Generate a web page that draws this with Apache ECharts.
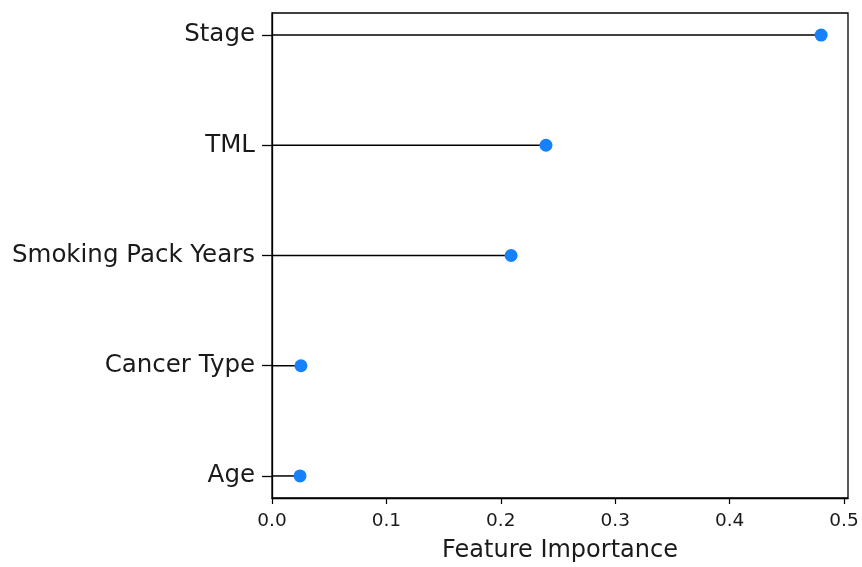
<!DOCTYPE html>
<html>
<head>
<meta charset="utf-8">
<script src="https://cdn.jsdelivr.net/npm/echarts@6/dist/echarts.min.js"></script>
<style>
html,body{margin:0;padding:0;background:#fff;}
#c{width:862px;height:567px;}
</style>
</head>
<body>
<div id="c"></div>
<script>
const categories = ['Age', 'Cancer Type', 'Smoking Pack Years', 'TML', 'Stage'];
const importance = [0.0245, 0.0253, 0.209, 0.2395, 0.480];
const xTicks = [0, 0.1, 0.2, 0.3, 0.4, 0.5];
const yTicks = [0, 1, 2, 3, 4];

const chart = echarts.init(document.getElementById('c'), null, {renderer: 'canvas'});
const font = 'DejaVu Sans';
const pts = importance.map((v, i) => [v, i]);

chart.setOption({
  backgroundColor: '#fff',
  animation: false,
  grid: {left: 272, right: 14, top: 13, bottom: 69, show: true, borderColor: '#000', borderWidth: 1.3,
    backgroundColor: 'transparent', containLabel: false, outerBoundsMode: 'none'},
  xAxis: {
    type: 'value', min: 0, max: 0.5035,
    name: 'Feature Importance', nameLocation: 'middle', nameGap: 41,
    nameTextStyle: {fontFamily: font, fontSize: 24, color: '#1a1a1a'},
    axisLine: {show: true, onZero: false, lineStyle: {color: '#000', width: 1.3}},
    axisTick: {show: true, length: 6, customValues: xTicks, lineStyle: {color: '#000', width: 1.2}},
    axisLabel: {customValues: xTicks, margin: 14, fontFamily: font, fontSize: 18.5, color: '#1a1a1a',
      formatter: v => v.toFixed(1)},
    splitLine: {show: false}
  },
  yAxis: {
    type: 'value', min: -0.2, max: 4.2,
    axisLine: {show: true, onZero: false, lineStyle: {color: '#000', width: 1.3}},
    axisTick: {show: true, length: 10, customValues: yTicks, lineStyle: {color: '#000', width: 1.3}},
    axisLabel: {customValues: yTicks, margin: 17, fontFamily: font, fontSize: 24.5, color: '#1a1a1a',
      formatter: v => categories[Math.round(v)] || ''},
    splitLine: {show: false}
  },
  series: [
    {
      type: 'custom',
      data: pts,
      renderItem: function (params, api) {
        const a = api.coord([0, api.value(1)]);
        const b = api.coord([api.value(0), api.value(1)]);
        return {type: 'line', shape: {x1: a[0], y1: a[1], x2: b[0], y2: b[1]},
          style: {stroke: '#000', lineWidth: 1.5}};
      },
      z: 2
    },
    {
      type: 'scatter',
      data: pts,
      symbol: 'circle',
      symbolSize: 13,
      itemStyle: {color: '#1581fb', opacity: 1},
      z: 3
    }
  ]
});
</script>
</body>
</html>
